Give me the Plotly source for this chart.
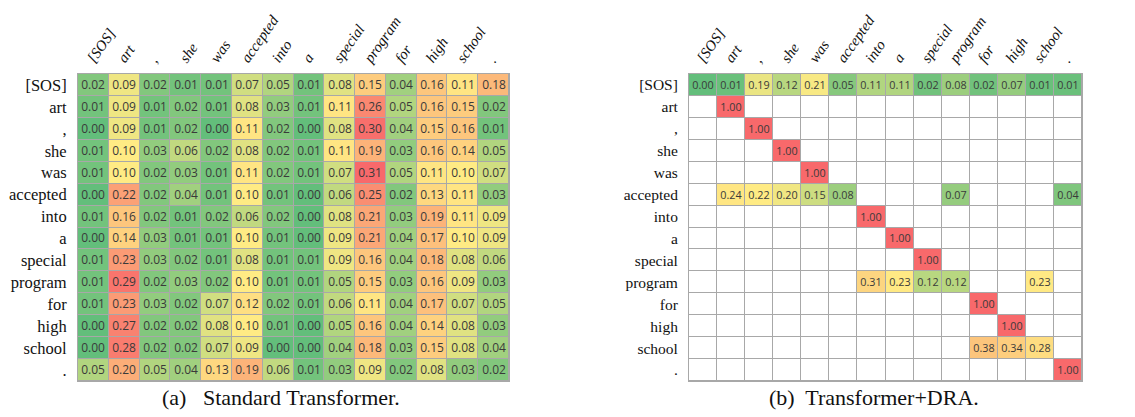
import plotly.graph_objects as go

tokens = ["[SOS]", "art", ",", "she", "was", "accepted", "into", "a",
          "special", "program", "for", "high", "school", "."]

std_attn = [
    [0.02, 0.09, 0.02, 0.01, 0.01, 0.07, 0.05, 0.01, 0.08, 0.15, 0.04, 0.16, 0.11, 0.18],
    [0.01, 0.09, 0.01, 0.02, 0.01, 0.08, 0.03, 0.01, 0.11, 0.26, 0.05, 0.16, 0.15, 0.02],
    [0.00, 0.09, 0.01, 0.02, 0.00, 0.11, 0.02, 0.00, 0.08, 0.30, 0.04, 0.15, 0.16, 0.01],
    [0.01, 0.10, 0.03, 0.06, 0.02, 0.08, 0.02, 0.01, 0.11, 0.19, 0.03, 0.16, 0.14, 0.05],
    [0.01, 0.10, 0.02, 0.03, 0.01, 0.11, 0.02, 0.01, 0.07, 0.31, 0.05, 0.11, 0.10, 0.07],
    [0.00, 0.22, 0.02, 0.04, 0.01, 0.10, 0.01, 0.00, 0.06, 0.25, 0.02, 0.13, 0.11, 0.03],
    [0.01, 0.16, 0.02, 0.01, 0.02, 0.06, 0.02, 0.00, 0.08, 0.21, 0.03, 0.19, 0.11, 0.09],
    [0.00, 0.14, 0.03, 0.01, 0.01, 0.10, 0.01, 0.00, 0.09, 0.21, 0.04, 0.17, 0.10, 0.09],
    [0.01, 0.23, 0.03, 0.02, 0.01, 0.08, 0.01, 0.01, 0.09, 0.16, 0.04, 0.18, 0.08, 0.06],
    [0.01, 0.29, 0.02, 0.03, 0.02, 0.10, 0.01, 0.01, 0.05, 0.15, 0.03, 0.16, 0.09, 0.03],
    [0.01, 0.23, 0.03, 0.02, 0.07, 0.12, 0.02, 0.01, 0.06, 0.11, 0.04, 0.17, 0.07, 0.05],
    [0.00, 0.27, 0.02, 0.02, 0.08, 0.10, 0.01, 0.00, 0.05, 0.16, 0.04, 0.14, 0.08, 0.03],
    [0.00, 0.28, 0.02, 0.02, 0.07, 0.09, 0.00, 0.00, 0.04, 0.18, 0.03, 0.15, 0.08, 0.04],
    [0.05, 0.20, 0.05, 0.04, 0.13, 0.19, 0.06, 0.01, 0.03, 0.09, 0.02, 0.08, 0.03, 0.02],
]

N = None
dra_attn = [
    [0.00, 0.01, 0.19, 0.12, 0.21, 0.05, 0.11, 0.11, 0.02, 0.08, 0.02, 0.07, 0.01, 0.01],
    [N, 1.00, N, N, N, N, N, N, N, N, N, N, N, N],
    [N, N, 1.00, N, N, N, N, N, N, N, N, N, N, N],
    [N, N, N, 1.00, N, N, N, N, N, N, N, N, N, N],
    [N, N, N, N, 1.00, N, N, N, N, N, N, N, N, N],
    [N, 0.24, 0.22, 0.20, 0.15, 0.08, N, N, N, 0.07, N, N, N, 0.04],
    [N, N, N, N, N, N, 1.00, N, N, N, N, N, N, N],
    [N, N, N, N, N, N, N, 1.00, N, N, N, N, N, N],
    [N, N, N, N, N, N, N, N, 1.00, N, N, N, N, N],
    [N, N, N, N, N, N, 0.31, 0.23, 0.12, 0.12, N, N, 0.23, N],
    [N, N, N, N, N, N, N, N, N, N, 1.00, N, N, N],
    [N, N, N, N, N, N, N, N, N, N, N, 1.00, N, N],
    [N, N, N, N, N, N, N, N, N, N, 0.38, 0.34, 0.28, N],
    [N, N, N, N, N, N, N, N, N, N, N, N, N, 1.00],
]

captions = ["(a)   Standard Transformer.", "(b)  Transformer+DRA."]

GREEN, YELLOW, RED = "#63BE7B", "#FFEB84", "#F8696B"
SERIF = "Liberation Serif, Times New Roman, serif"
n = len(tokens)
idx = list(range(n))


def fmt(m):
    return [["" if v is None else f"{v:.2f}" for v in row] for row in m]


fig = go.Figure()

# left: standard transformer
fig.add_trace(go.Heatmap(
    z=std_attn, x=idx, y=idx, text=fmt(std_attn), texttemplate="%{text}",
    textfont=dict(family="Open Sans", size=12, color="#3a3a3a"),
    colorscale=[[0, GREEN], [0.1 / 0.31, YELLOW], [1, RED]],
    zmin=0, zmax=0.31, showscale=False, xgap=1, ygap=1,
    xaxis="x", yaxis="y", hoverinfo="skip"))

# right: white underlay for empty cells
fig.add_trace(go.Heatmap(
    z=[[0] * n for _ in range(n)], x=idx, y=idx,
    colorscale=[[0, "white"], [1, "white"]], showscale=False,
    xgap=1, ygap=1, xaxis="x2", yaxis="y2", hoverinfo="skip"))

fig.add_trace(go.Heatmap(
    z=dra_attn, x=idx, y=idx, text=fmt(dra_attn), texttemplate="%{text}",
    textfont=dict(family="Open Sans", size=10.8, color="#3a3a3a"),
    colorscale=[[0, GREEN], [0.22, YELLOW], [0.45, "#FBB479"], [1, RED]],
    zmin=0, zmax=1, showscale=False, xgap=1, ygap=1,
    xaxis="x2", yaxis="y2", hoverinfo="skip"))

# page body has an 8px margin: the figure is offset by it
OFF = 8
W, H = 1135 - OFF, 417 - OFF


def px(x):
    return (x - OFF) / W


def py(y):
    return 1 - (y - OFF) / H


left_dom = [px(78), px(509)]
right_dom = [px(689), px(1082)]
y_dom = [py(381), py(74)]

col_font = dict(family=SERIF, size=15, color="#111")
xcommon = dict(tickmode="array", tickvals=idx,
               ticktext=[f"<i>{t}</i>" for t in tokens], side="top",
               tickangle=-55, range=[-0.5, n - 0.5], showgrid=False,
               zeroline=False, ticks="", showline=True, mirror=True,
               linecolor="#a8a8a8", linewidth=1, tickfont=col_font,
               ticklabelstandoff=0, ticklabelshift=-5, automargin=False)
ycommon = dict(tickmode="array", tickvals=idx, ticktext=tokens,
               range=[n - 0.5, -0.5], showgrid=False, zeroline=False,
               ticks="", showline=True, mirror=True, linecolor="#a8a8a8",
               linewidth=1, ticklabelstandoff=7, automargin=False)

fig.update_layout(
    width=W, height=H, margin=dict(l=0, r=0, t=0, b=0),
    font=dict(family=SERIF, color="#111"),
    paper_bgcolor="white", plot_bgcolor="#a8a8a8",
    xaxis=dict(domain=left_dom, anchor="y", **xcommon),
    yaxis=dict(domain=y_dom, anchor="x",
               tickfont=dict(family=SERIF, size=16.5, color="#111"),
               **ycommon),
    xaxis2=dict(domain=right_dom, anchor="y2", **xcommon),
    yaxis2=dict(domain=y_dom, anchor="x2",
                tickfont=dict(family=SERIF, size=15.5, color="#111"),
                **ycommon),
    annotations=[
        dict(text=captions[0], x=px(281), y=py(397), xref="paper",
             yref="paper", showarrow=False, xanchor="center", yanchor="middle",
             font=dict(family=SERIF, size=22, color="#111")),
        dict(text=captions[1], x=px(874), y=py(397), xref="paper",
             yref="paper", showarrow=False, xanchor="center", yanchor="middle",
             font=dict(family=SERIF, size=22, color="#111")),
    ],
)

fig.write_html("out.html")
